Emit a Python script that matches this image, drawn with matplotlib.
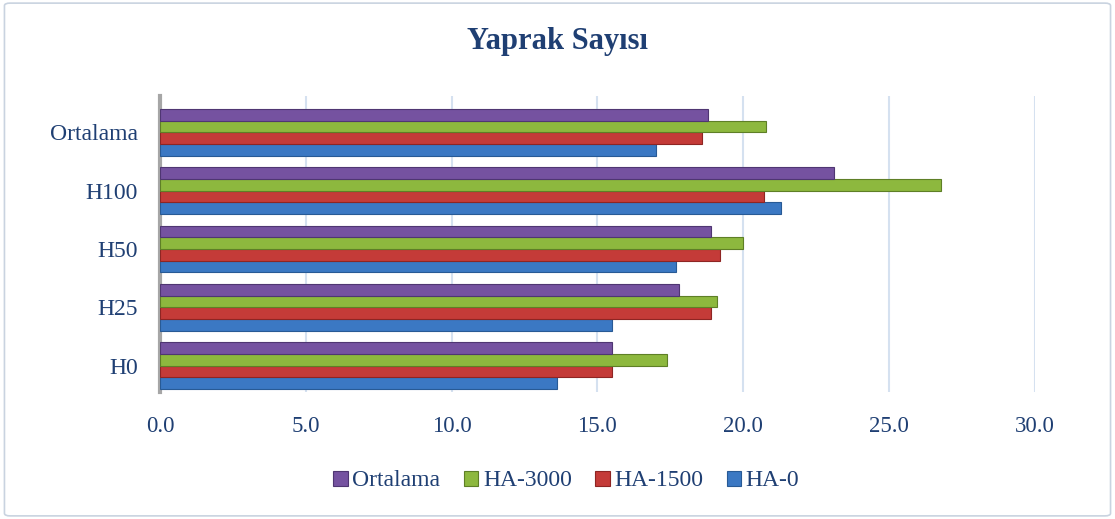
import matplotlib.pyplot as plt
import numpy as np
from matplotlib.patches import FancyBboxPatch

categories = ['H0', 'H25', 'H50', 'H100', 'Ortalama']
series = ['HA-0', 'HA-1500', 'HA-3000', 'Ortalama']
ha_0 = [13.6, 15.5, 17.7, 21.3, 17.0]
ha_1500 = [15.5, 18.9, 19.2, 20.7, 18.6]
ha_3000 = [17.4, 19.1, 20.0, 26.8, 20.8]
ortalama = [15.5, 17.8, 18.9, 23.1, 18.8]
ticks = [0, 5, 10, 15, 20, 25, 30]

colors = ['#3B78C3', '#C43B38', '#8DB83E', '#7552A0']
edges = ['#285A95', '#8E2523', '#5E7F26', '#4F3672']
text_col = '#1F3F73'

plt.rcParams['font.family'] = ['Liberation Serif', 'DejaVu Serif']

fig = plt.figure(figsize=(11.15, 5.19), dpi=100)
# chart border
fig.patches.append(FancyBboxPatch((0.004, 0.006), 0.992, 0.988, boxstyle='round,pad=0,rounding_size=0.005',
                                  transform=fig.transFigure, fill=False, edgecolor='#C9D3E0', lw=1.2))
ax = fig.add_axes([160 / 1115, 1 - 392 / 519, (1034.7 - 160) / 1115, (392 - 96) / 519])

y = np.arange(len(categories))
h = 0.2
data = [ha_0, ha_1500, ha_3000, ortalama]
for i, vals in enumerate(data):
    off = (i - 1.5) * h
    ax.barh(y + off, vals, height=h, color=colors[i], edgecolor=edges[i], linewidth=0.8,
            label=series[i], zorder=3)

ax.set_xlim(0, 30)
ax.set_ylim(-0.45, 4.62)
ax.set_xticks(ticks)
ax.set_xticklabels([f'{t:.1f}' for t in ticks], color=text_col, fontsize=16.5)
ax.set_yticks(y)
ax.set_yticklabels(categories, color=text_col, fontsize=17)
ax.tick_params(length=0)
ax.tick_params(axis='x', pad=17)
ax.tick_params(axis='y', pad=16)
ax.grid(axis='x', color='#D5E1F0', lw=1.5, zorder=0)
for s in ['top', 'right', 'bottom']:
    ax.spines[s].set_visible(False)
ax.spines['left'].set_color('#A6A6A6')
ax.spines['left'].set_linewidth(3)

fig.text(0.5, 1 - 42 / 519, 'Yaprak Sayısı', ha='center', va='center', fontsize=22,
         fontweight='bold', color=text_col)

handles, labels = ax.get_legend_handles_labels()
leg = fig.legend(handles[::-1], labels[::-1], loc='center', bbox_to_anchor=(0.508, 1 - 481 / 519),
                 ncol=4, frameon=False, fontsize=17, handlelength=0.6, handleheight=0.6,
                 handletextpad=0.2, columnspacing=1.0)
for t in leg.get_texts():
    t.set_color(text_col)

fig.savefig('out.png', dpi=100)
